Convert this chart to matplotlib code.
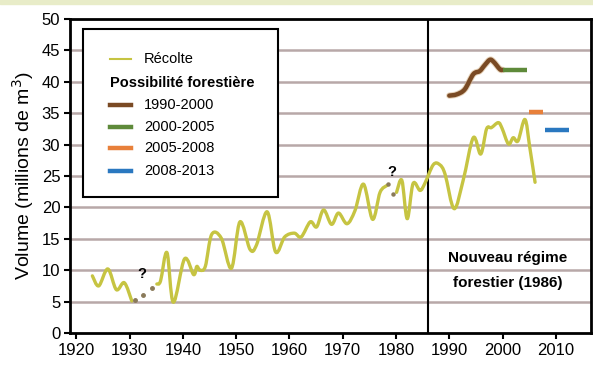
import matplotlib
matplotlib.use("Agg")
import matplotlib.pyplot as plt
from matplotlib.patches import Rectangle, PathPatch
from matplotlib.path import Path
from matplotlib.lines import Line2D
import matplotlib.patheffects as pe

plt.rcParams['font.family'] = ['Liberation Sans', 'DejaVu Sans']

# Récolte (harvest), three solid segments and two uncertain gaps
rec1_years = [1923, 1924.2, 1925.9, 1927.5, 1929, 1930.4]
rec1_vals = [9.1, 7.5, 10.2, 6.9, 8.0, 5.1]

gap1_years = [1931, 1932.5, 1934.2]
gap1_vals = [5.3, 6.1, 7.2]

rec2_years = [1935.1, 1935.8, 1937.0, 1938.2, 1940.3, 1942.0, 1942.6, 1943.2, 1944.2,
              1945.4, 1947.2, 1949.1, 1950.7, 1952.6, 1953.8, 1955.8, 1957.4, 1959.1,
              1960.9, 1962.2, 1963.9, 1965.1, 1966.4, 1967.9, 1969.2, 1970.8, 1972.3,
              1973.9, 1975.6, 1977.0, 1978.3]
rec2_vals = [7.8, 8.3, 12.8, 4.9, 11.8, 9.3, 10.6, 10.0, 10.6,
             15.7, 15.1, 10.3, 17.7, 13.3, 14.0, 19.3, 12.9, 15.3,
             15.9, 15.3, 17.7, 16.9, 19.6, 17.3, 19.1, 17.4, 19.5,
             23.7, 18.1, 22.4, 23.5]

gap2_years = [1978.4, 1979.4]
gap2_vals = [23.8, 22.2]

rec3_years = [1980.1, 1981.1, 1982.1, 1983.2, 1984.5, 1985.4, 1987.0, 1988.2, 1989.2,
              1990.9, 1992.6, 1994.5, 1995.9, 1997.0, 1997.9, 1999.2, 1999.9, 2001.1,
              2002.0, 2002.9, 2004.2, 2005.1, 2006.1]
rec3_vals = [22.4, 24.3, 18.2, 23.8, 22.7, 23.8, 26.8, 26.8, 25.3,
             19.8, 24.3, 31.1, 28.5, 32.5, 32.7, 33.5, 32.6, 30.1,
             31.1, 30.6, 34.0, 29.6, 24.0]

# Possibilité forestière (allowable cut)
p1_years = [1990, 1991.4, 1992.9, 1994.5, 1995.7, 1996.6, 1997.6, 1998.3, 1999.5, 2000]
p1_vals = [37.8, 38.0, 38.8, 41.2, 41.7, 42.6, 43.5, 43.2, 42.0, 41.9]
p2_years = [2000, 2004.5]
p2_vals = [41.9, 41.9]
p3_years = [2005, 2007.5]
p3_vals = [35.2, 35.2]
p4_years = [2008, 2012.5]
p4_vals = [32.3, 32.3]

series_labels = ["Récolte", "Possibilité forestière", "1990-2000", "2000-2005",
                 "2005-2008", "2008-2013"]

c_rec = "#c6c442"
c_p1 = "#7a4a24"
c_p2 = "#5e8a3a"
c_p3 = "#e8803a"
c_p4 = "#2a78c0"
c_grid = "#b8a8a8"


def smooth_path(xs, ys):
    """Smoothed (Excel-style) line: cubic Bezier segments through the data points."""
    pts = list(zip(xs, ys))
    n = len(pts)
    verts = [pts[0]]
    codes = [Path.MOVETO]
    for i in range(n - 1):
        p0 = pts[i - 1] if i > 0 else pts[i]
        p1 = pts[i]
        p2 = pts[i + 1]
        p3 = pts[i + 2] if i + 2 < n else pts[i + 1]
        c1 = (p1[0] + (p2[0] - p0[0]) / 6, p1[1] + (p2[1] - p0[1]) / 6)
        c2 = (p2[0] - (p3[0] - p1[0]) / 6, p2[1] - (p3[1] - p1[1]) / 6)
        verts += [c1, c2, p2]
        codes += [Path.CURVE4] * 3
    return Path(verts, codes)


def draw_smooth(ax, xs, ys, color, lw, z, effects=None):
    patch = PathPatch(smooth_path(xs, ys), facecolor="none", edgecolor=color, lw=lw,
                      capstyle="round", joinstyle="round", zorder=z)
    if effects:
        patch.set_path_effects(effects)
    ax.add_patch(patch)


W, H = 593, 368
fig = plt.figure(figsize=(W / 100, H / 100), dpi=100)
fig.patches.append(Rectangle((0, 1 - 4 / H), 1, 4 / H, transform=fig.transFigure,
                             color="#e8ecc8", zorder=0))

ax = fig.add_axes([70 / W, (H - 333) / H, (591 - 70) / W, (333 - 19) / H])
ax.set_xlim(1918.8, 2016.6)
ax.set_ylim(0, 50)

for v in range(5, 50, 5):
    ax.axhline(v, color=c_grid, lw=1.8, zorder=1)

ax.axvline(1986, color="black", lw=1.5, zorder=2)

lw_rec = 2.4
draw_smooth(ax, rec1_years, rec1_vals, c_rec, lw_rec, 3)
draw_smooth(ax, rec2_years, rec2_vals, c_rec, lw_rec, 3)
draw_smooth(ax, rec3_years, rec3_vals, c_rec, lw_rec, 3)
ax.plot(gap1_years, gap1_vals, ls="none", marker="o", ms=2.5,
        color="#8a7a5a", zorder=3)
ax.plot(gap2_years, gap2_vals, ls="none", marker="o", ms=2.2, color="#8a7a5a", zorder=3)

ax.text(1932.2, 9.4, "?", fontsize=10.5, fontweight="bold", ha="center", va="center")
ax.text(1979.2, 25.6, "?", fontsize=10.5, fontweight="bold", ha="center", va="center")

halo = [pe.Stroke(linewidth=4.6, foreground="#d8b890", alpha=0.6), pe.Normal()]
draw_smooth(ax, p1_years, p1_vals, c_p1, 3.2, 4, halo)
ax.plot(p2_years, p2_vals, color=c_p2, lw=3.2, solid_capstyle="butt", zorder=4)
ax.plot(p3_years, p3_vals, color=c_p3, lw=3.2, solid_capstyle="butt", zorder=4)
ax.plot(p4_years, p4_vals, color=c_p4, lw=3.2, solid_capstyle="butt", zorder=4)

ax.text(2001.0, 12.0, "Nouveau régime", fontsize=11, fontweight="bold",
        ha="center", va="center", zorder=5)
ax.text(2001.0, 7.9, "forestier (1986)", fontsize=11, fontweight="bold",
        ha="center", va="center", zorder=5)

# manual legend
leg_box = Rectangle((0.025, 0.432), 0.374, 0.536, transform=ax.transAxes,
                    facecolor="white", edgecolor="black", lw=1.5, zorder=6)
ax.add_patch(leg_box)
rows = [0.873, 0.797, 0.727, 0.657, 0.590, 0.517]
colors = [c_rec, None, c_p1, c_p2, c_p3, c_p4]
hx0, hx1, tx = 0.077, 0.118, 0.142
for lab, col, y in zip(series_labels, colors, rows):
    if col is None:
        ax.text(hx0, y, lab, transform=ax.transAxes, fontsize=10.5, fontweight="bold",
                ha="left", va="center", zorder=7)
    else:
        lw = 1.5 if col == c_rec else 3.2
        ax.add_line(Line2D([hx0, hx1], [y, y], transform=ax.transAxes, color=col,
                           lw=lw, zorder=7))
        ax.text(tx, y, lab, transform=ax.transAxes, fontsize=10.5,
                ha="left", va="center", zorder=7)

ax.set_xticks(range(1920, 2011, 10))
ax.set_yticks(range(0, 51, 5))
ax.tick_params(axis="both", labelsize=12, width=1.5, length=4, direction="out",
               colors="black", pad=3)
for s in ax.spines.values():
    s.set_linewidth(2)
    s.set_color("black")

ax.set_ylabel("Volume (millions de m$^3$)", fontsize=14, labelpad=4)

fig.savefig("out.png", dpi=100)
